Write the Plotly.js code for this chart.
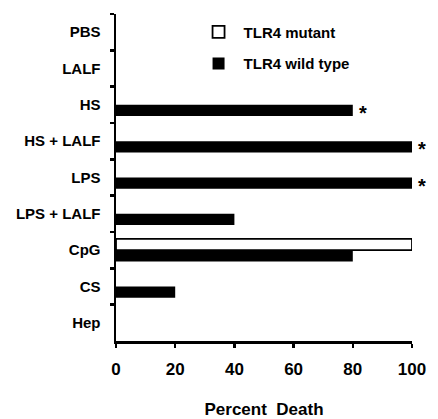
<!DOCTYPE html>
<html>
<head>
<meta charset="utf-8">
<script src="https://cdn.plot.ly/plotly-3.0.1.min.js"></script>
<style>html,body{margin:0;padding:0;background:#fff;}#chart{width:438px;height:419px;}</style>
</head>
<body>
<div id="chart"></div>
<script>
const categories = ["PBS", "LALF", "HS", "HS + LALF", "LPS", "LPS + LALF", "CpG", "CS", "Hep"];
const mutantValues = [null, null, null, null, null, null, 100, null, null];
const wildTypeValues = [0, 0, 80, 100, 100, 40, 80, 20, 0];
const significant = [false, false, true, true, true, false, false, false, false];
const xTicks = [0, 20, 40, 60, 80, 100];

const FONT = "Liberation Sans, Arial, Helvetica, sans-serif";

const traces = [
  {
    type: "bar", orientation: "h", name: "TLR4 mutant",
    y: categories, x: mutantValues, legendgroup: "m",
    marker: {color: "#ffffff", line: {color: "#000000", width: 1.8}},
    hoverinfo: "skip"
  },
  {
    type: "bar", orientation: "h", name: "TLR4 wild type",
    y: categories, x: wildTypeValues, legendgroup: "w",
    marker: {color: "#000000", line: {color: "#000000", width: 0}},
    hoverinfo: "skip"
  }
];

const annotations = [];
categories.forEach((c, i) => {
  if (significant[i]) {
    annotations.push({
      x: wildTypeValues[i], y: c, xref: "x", yref: "y",
      text: "*", showarrow: false, xanchor: "left", yanchor: "middle",
      xshift: 4, yshift: -8,
      font: {family: FONT, size: 20, color: "#000", weight: "bold"}
    });
  }
});

const layout = {
  width: 438, height: 419,
  margin: {l: 116, r: 26, t: 14, b: 78},
  paper_bgcolor: "#ffffff", plot_bgcolor: "#ffffff",
  barmode: "group", bargap: 0.38, bargroupgap: 0,
  showlegend: true,
  legend: {
    x: 0.262, xanchor: "left", y: 0.995, yanchor: "top",
    itemwidth: 40,
    bgcolor: "rgba(0,0,0,0)", tracegroupgap: 9, traceorder: "grouped",
    font: {family: FONT, size: 15, color: "#000", weight: "bold"}
  },
  xaxis: {
    range: [0, 100], tickvals: xTicks, ticktext: xTicks.map(String),
    showgrid: false, zeroline: false, showline: true, linecolor: "#000", linewidth: 2.5,
    ticks: "outside", ticklen: 4, tickwidth: 2.5, tickcolor: "#000",
    ticklabelstandoff: 7,
    tickfont: {family: FONT, size: 17, color: "#000", weight: "bold"},
    title: {text: "Percent\u00a0\u00a0Death", standoff: 26,
      font: {family: FONT, size: 17, color: "#000", weight: "bold"}}
  },
  yaxis: {
    type: "category", categoryorder: "array", categoryarray: categories,
    autorange: "reversed", range: [8.5, -0.5],
    showgrid: false, zeroline: false, showline: true, linecolor: "#000", linewidth: 2.5,
    ticks: "outside", tickson: "boundaries", ticklen: 4, tickwidth: 2.5, tickcolor: "#000",
    ticklabelstandoff: 10,
    tickfont: {family: FONT, size: 15, color: "#000", weight: "bold"}
  },
  annotations: annotations
};

Plotly.newPlot("chart", traces, layout, {displayModeBar: false, staticPlot: true});
</script>
</body>
</html>
